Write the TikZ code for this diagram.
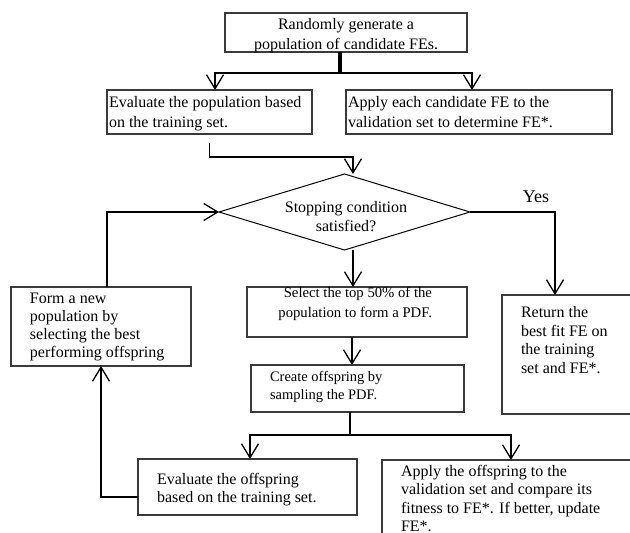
\documentclass[tikz,border=0pt]{standalone}
\usepackage{fontspec}
\setmainfont{Liberation Serif}
\usetikzlibrary{arrows.meta,shapes.geometric,calc}
\definecolor{edgegray}{HTML}{3A3A3A}
\tikzset{
  box/.style={draw=edgegray, line width=1.1pt, inner sep=0pt, outer sep=0pt, anchor=north west},
  conn/.style={draw=black, line width=1.7pt, -{Straight Barb[length=14pt,width=17pt,line width=1.3pt]}},
  plainline/.style={draw=black, line width=1.7pt},
  stemline/.style={draw=black, line width=3.2pt},
  txt/.style={inner sep=0pt, outer sep=0pt, text=black},
}
\newcommand\fsz[2]{\fontsize{#1}{#2}\selectfont}
\begin{document}
\begin{tikzpicture}[x=1pt,y=-1pt]
\useasboundingbox (0,0) rectangle (630,533);
\clip (0,0) rectangle (630,533);
\fill[white] (0,0) rectangle (630,533);

% boxes
\node[box, minimum width=242pt, minimum height=39pt] (top) at (225,13) {};
\node[box, minimum width=205pt, minimum height=44pt] (evalpop) at (107,90) {};
\node[box, minimum width=266pt, minimum height=44pt] (applycand) at (346,90) {};
\node[diamond, draw=black, line width=1pt, minimum width=251pt, minimum height=76pt, inner sep=0pt, outer sep=0pt] (stop) at (344.5,212) {};
\node[box, minimum width=220pt, minimum height=50pt] (sel) at (247,287) {};
\node[box, minimum width=213pt, minimum height=47pt] (create) at (251,365) {};
\node[box, minimum width=180pt, minimum height=79pt] (form) at (11,287) {};
\node[box, minimum width=138pt, minimum height=119pt] (ret) at (502,295) {};
\node[box, minimum width=219pt, minimum height=56pt] (evaloff) at (138,459) {};
\node[box, minimum width=258pt, minimum height=85pt] (applyoff) at (382,460) {};

% texts
\node[txt, anchor=north, align=center, font=\fsz{16}{20}] (t-top) at (346,15) {\strut Randomly generate a\\population of candidate FEs.};
\node[txt, anchor=north west, align=left, font=\fsz{16}{20}] (t-evalpop) at (109,93.5) {\strut Evaluate the population based\\on the training set.};
\node[txt, anchor=north west, align=left, font=\fsz{16}{20}] (t-applycand) at (348,93.5) {\strut Apply each candidate FE to the\\validation set to determine FE*.};
\node[txt, anchor=north, align=center, font=\fsz{16}{19}] (t-stop) at (346,198.7) {\strut Stopping condition\\satisfied?};
\node[txt, anchor=north east, align=right, font=\fsz{14.7}{19.5}] (t-sel) at (432,283.85) {\strut Select the top 50\% of the\\population to form a PDF.};
\node[txt, anchor=north west, align=left, font=\fsz{14.5}{18.5}] (t-create) at (270,368.05) {\strut Create offspring by\\sampling the PDF.};
\node[txt, anchor=north west, align=left, font=\fsz{16}{18.3}] (t-form) at (30,290.19) {\strut Form a new\\population by\\selecting the best\\performing offspring};
\node[txt, anchor=north west, align=left, font=\fsz{16}{18.7}] (t-ret) at (521,304.41) {\strut Return the\\best fit FE on\\the training\\set and FE*.};
\node[txt, anchor=north west, align=left, font=\fsz{16}{18}] (t-evaloff) at (157,471.4) {\strut Evaluate the offspring\\based on the training set.};
\node[txt, anchor=north west, align=left, font=\fsz{16}{18.5}] (t-applyoff) at (401,463.05) {\strut Apply the offspring to the\\validation set and compare its\\fitness to FE*. If better, update\\FE*.};
\node[txt, anchor=base, font=\fsz{18}{21}] (yes) at (536,202) {Yes};

% connectors
\draw[stemline] ([xshift=-6pt]top.south) -- ++(0,21) coordinate (sp1);
\draw[conn] (sp1) -| ([xshift=5.5pt]evalpop.north);
\draw[conn] (sp1) -| ([xshift=-7pt]applycand.north);
\draw[conn] ([yshift=-9pt]evalpop.south) -- ++(0,14) -| ([xshift=8.5pt]stop.north);
\draw[conn] ([xshift=8.5pt]stop.south) -- ([xshift=8.5pt]stop.south |- sel.north);
\draw[conn] ([xshift=-5pt]sel.south) -- ([xshift=-5pt]sel.south |- create.north);
\draw[conn] (stop.east) -| ($(ret.north west)+(53pt,0pt)$);
\draw[plainline] ([xshift=-7.5pt]create.south) -- ++(0,23) coordinate (sp2);
\draw[conn] (sp2) -| ([xshift=2.5pt]evaloff.north);
\draw[conn] (sp2) -| (applyoff.north);
\draw[conn] ([yshift=-10pt]evaloff.west) -| (form.south);
\draw[conn] ([xshift=6pt]form.north) |- (stop.west);
\end{tikzpicture}
\end{document}
